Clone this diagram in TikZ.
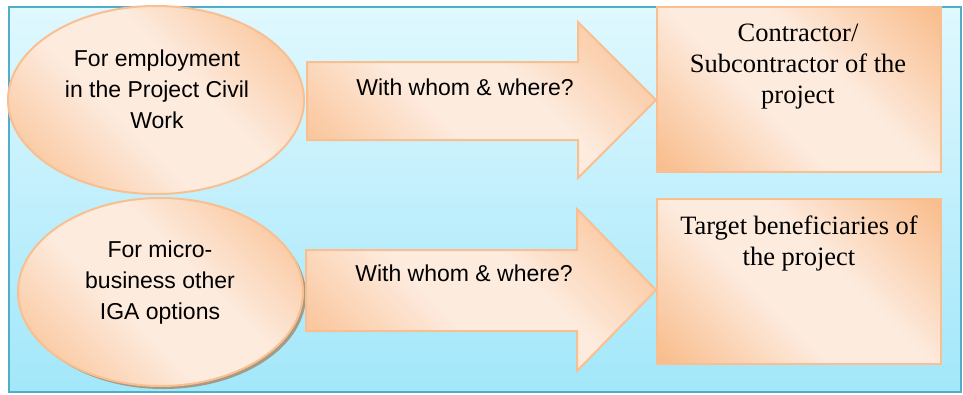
\documentclass[tikz,border=0pt]{standalone}
\usepackage{fontspec}
\setmainfont{Liberation Serif}
\setsansfont{Liberation Sans}
\usetikzlibrary{shapes.geometric,shadows}

\definecolor{skyTop}{HTML}{E0F8FE}
\definecolor{skyBot}{HTML}{A2E7FA}
\definecolor{skyEdge}{HTML}{4FAFC8}
\definecolor{peachDark}{HTML}{F9BE8E}
\definecolor{peachLight}{HTML}{FDEBDE}
\definecolor{peachEdge}{HTML}{F9BF90}
\definecolor{shadowTone}{HTML}{A39B86}

% dark corners, wide light diagonal band
\pgfdeclarehorizontalshading{peachband}{100bp}{%
  color(0bp)=(peachDark); color(16bp)=(peachDark); color(42bp)=(peachLight);
  color(58bp)=(peachLight); color(84bp)=(peachDark); color(100bp)=(peachDark)}

\begin{document}
\begin{tikzpicture}[x=1pt, y=-1pt,
  peachshape/.style={draw=peachEdge, line width=2pt, shading=peachband, shading angle=45},
  oval/.style={peachshape, ellipse, inner sep=0pt},
  target/.style={peachshape, rectangle, inner sep=0pt, minimum width=284pt, minimum height=165pt},
  sanslabel/.style={font=\sffamily\fontsize{23}{31}\selectfont, align=center, inner sep=0pt, text=black},
  seriflabel/.style={font=\rmfamily\fontsize{26.5}{31}\selectfont, align=center, inner sep=0pt, text=black}]

  \useasboundingbox (0,0) rectangle (963,394);

  % backdrop panel
  \path[top color=skyTop, bottom color=skyBot, draw=skyEdge, line width=1.5pt]
    (9,7) rectangle (961,392);

  % purpose ovals
  \node[oval, minimum width=296pt, minimum height=188pt] (e1) at (156,100) {};
  \node[oval, minimum width=285pt, minimum height=188pt,
        drop shadow={shadow xshift=3pt, shadow yshift=-3pt, fill=shadowTone, opacity=1}]
        (e2) at (160.5,292) {};
  \node[sanslabel] (e1text) at (157,89) {For employment\\in the Project Civil\\Work};
  \node[sanslabel] (e2text) at (160,282.5) {For micro-\\business other\\IGA options};

  % block arrows
  \path[peachshape] (307,62) -- (578,62) -- (578,22) -- (656,100) -- (578,178)
    -- (578,140) -- (307,140) -- cycle;
  \path[peachshape] (306,250) -- (577,250) -- (577,209) -- (656,290) -- (577,371)
    -- (577,331) -- (306,331) -- cycle;
  \node[sanslabel, anchor=base] (a1text) at (465,95) {With whom \& where?};
  \node[sanslabel, anchor=base] (a2text) at (464,281.7) {With whom \& where?};

  % target boxes
  \node[target] (b1) at (799,89.5) {};
  \node[target] (b2) at (799,281.5) {};
  \node[seriflabel] (b1text) at (798,67) {Contractor/\\Subcontractor of the\\project};
  \node[seriflabel] (b2text) at (799,243) {Target beneficiaries of\\the project};
\end{tikzpicture}
\end{document}
